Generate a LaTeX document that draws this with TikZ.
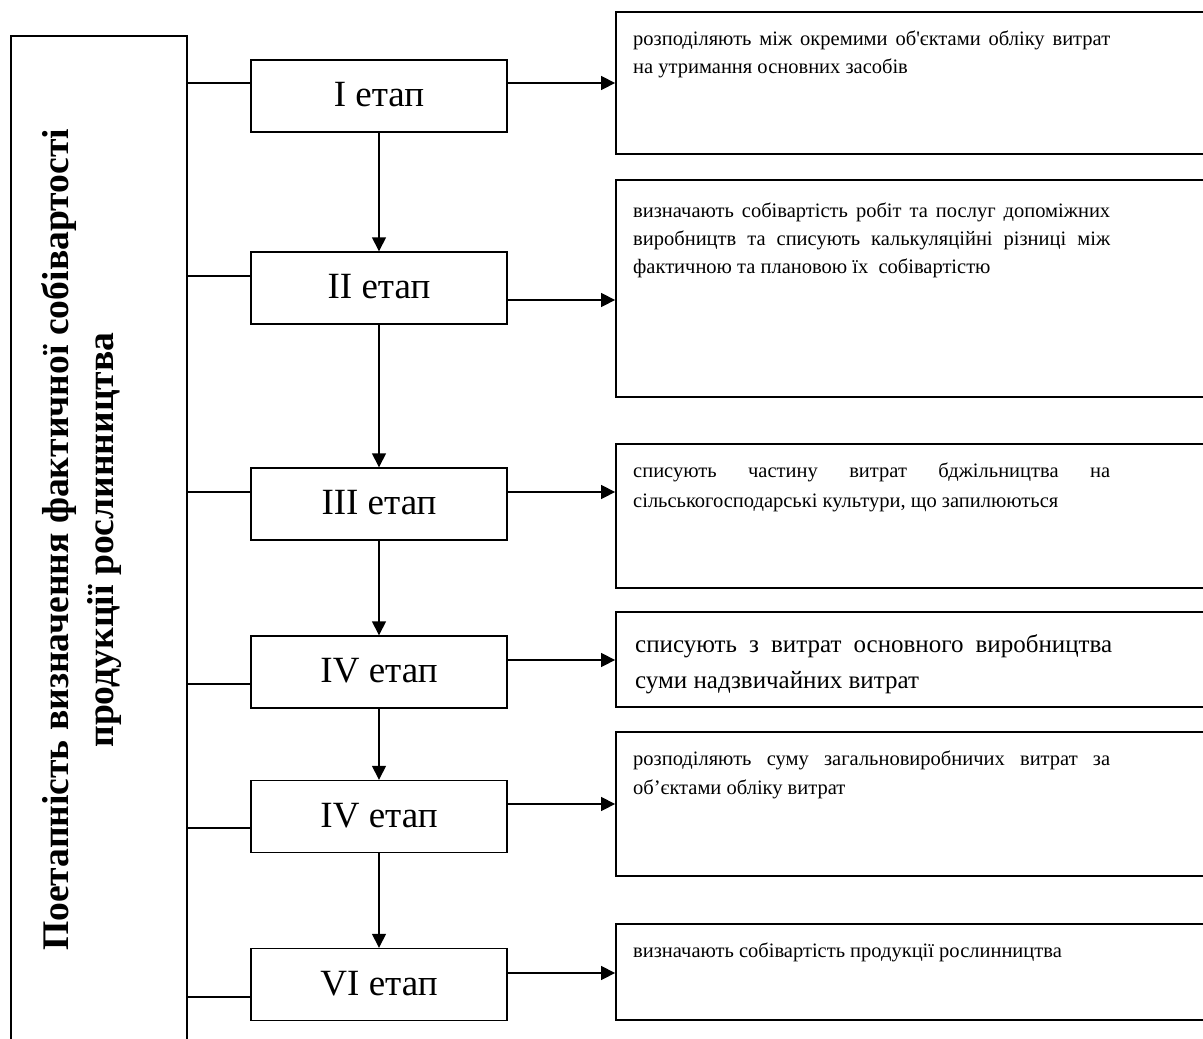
\documentclass[tikz,border=0pt]{standalone}
\usepackage{fontspec}
\setmainfont{Liberation Serif}
\usetikzlibrary{arrows.meta,calc}
\newcommand{\jline}[1]{\makebox[477pt][s]{#1}}
\tikzset{
  bigframe/.style={draw, line width=1.5pt, inner sep=0pt, minimum width=176pt, minimum height=1014pt},
  titletext/.style={inner sep=0pt, rotate=90, align=center, font=\fontsize{37.6}{45}\selectfont\bfseries},
  stagebox/.style={draw, line width=1.4pt, minimum width=256pt, minimum height=72pt, inner sep=0pt, text depth=3pt, font=\fontsize{37}{44}\selectfont},
  resbox/.style={draw, line width=1.8pt, inner sep=0pt, minimum width=600pt},
  restext/.style={anchor=base west, inner sep=0pt, align=justify, text width=477pt, font=\fontsize{20.5}{28}\selectfont},
  link/.style={line width=1.4pt},
  arr/.style={line width=1.4pt, -{Triangle[length=14pt,width=14pt]}},
}
\begin{document}
\begin{tikzpicture}[x=1pt,y=-1pt]
\useasboundingbox (0,0) rectangle (1203,1039);
\clip (0,0) rectangle (1203,1039);

% left frame with title
\node[bigframe] (frame) at (99,543) {};
\node[titletext] (title) at (82,540) {Поетапність визначення фактичної собівартості\\продукції рослинництва};

% stages
\node[stagebox] (s1) at (379,96) {I етап};
\node[stagebox] (s2) at (379,288) {II етап};
\node[stagebox] (s3) at (379,504) {III етап};
\node[stagebox] (s4) at (379,672) {IV етап};
\node[stagebox] (s5) at (379,816.5) {IV етап};
\node[stagebox] (s6) at (379,984.5) {VI етап};

% result boxes
\node[resbox, minimum height=142pt] (r1) at (916,83) {};
\node[resbox, minimum height=217pt] (r2) at (916,288.5) {};
\node[resbox, minimum height=144pt] (r3) at (916,516) {};
\node[resbox, minimum height=95pt] (r4) at (916,659.5) {};
\node[resbox, minimum height=144pt] (r5) at (916,804) {};
\node[resbox, minimum height=96pt] (r6) at (916,972) {};

% result texts
\node[restext] (t1) at (633,45) {\jline{розподіляють між окремими об\textquotesingle єктами обліку витрат}\\на утримання основних засобів};
\node[restext] (t2) at (633,217) {\jline{визначають собівартість робіт та послуг допоміжних}\\\jline{виробництв та списують калькуляційні різниці між}\\фактичною та плановою їх\ \ собівартістю};
\node[restext, font=\fontsize{20.5}{30}\selectfont] (t3) at (633,477) {\jline{списують частину витрат бджільництва на}\\сільськогосподарські культури, що запилюються};
\node[restext, font=\fontsize{25}{36}\selectfont] (t4) at (635,652) {\jline{списують з витрат основного виробництва}\\суми надзвичайних витрат};
\node[restext, font=\fontsize{20.5}{29}\selectfont] (t5) at (633,765) {\jline{розподіляють суму загальновиробничих витрат за}\\об’єктами обліку витрат};
\node[restext] (t6) at (633,957) {визначають собівартість продукції рослинництва};

% vertical arrows
\draw[arr] (s1.south) -- (s2.north);
\draw[arr] (s2.south) -- (s3.north);
\draw[arr] (s3.south) -- (s4.north);
\draw[arr] (s4.south) -- (s5.north);
\draw[arr] (s5.south) -- (s6.north);

% links from frame
\coordinate (a1) at ($(s1.west)+(0,-13)$);
\coordinate (a2) at ($(s2.west)+(0,-12)$);
\coordinate (a3) at ($(s3.west)+(0,-12)$);
\coordinate (a4) at ($(s4.west)+(0,12)$);
\coordinate (a5) at ($(s5.west)+(0,11.5)$);
\coordinate (a6) at ($(s6.west)+(0,12.5)$);
\foreach \i in {1,...,6} {\draw[link] (frame.east |- a\i) -- (a\i);}

% arrows to results
\coordinate (b1) at ($(s1.east)+(0,-13)$);
\coordinate (b2) at ($(s2.east)+(0,12)$);
\coordinate (b3) at ($(s3.east)+(0,-12)$);
\coordinate (b4) at ($(s4.east)+(0,-12)$);
\coordinate (b5) at ($(s5.east)+(0,-12.5)$);
\coordinate (b6) at ($(s6.east)+(0,-11.5)$);
\foreach \i in {1,...,6} {\draw[arr] (b\i) -- (r\i.west |- b\i);}
\end{tikzpicture}
\end{document}
